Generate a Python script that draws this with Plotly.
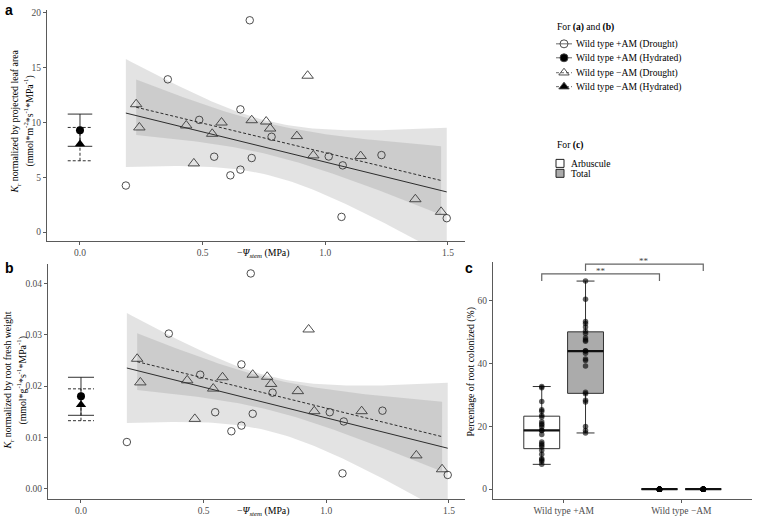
import numpy as np
import plotly.graph_objects as go

# ---------------- DATA ----------------
# Panels a/b : drought plants, -Psi_stem (MPa)
am_drought_psi = [0.187, 0.358, 0.486, 0.547, 0.613, 0.654, 0.654, 0.692, 0.700, 0.781, 1.014, 1.071, 1.229, 1.066, 1.495]
am_drought_kr_leaf = [4.25, 13.94, 10.24, 6.88, 5.18, 11.2, 5.7, 19.33, 6.76, 8.7, 6.9, 6.09, 7.03, 1.39, 1.27]
am_drought_kr_root = [0.0091, 0.0302, 0.0222, 0.0149, 0.0112, 0.0242, 0.0123, 0.0419, 0.0146, 0.0187, 0.0149, 0.0131, 0.0152, 0.0030, 0.0027]

nam_drought_psi = [0.229, 0.242, 0.433, 0.464, 0.539, 0.577, 0.700, 0.759, 0.775, 0.884, 0.928, 0.951, 1.144, 1.367, 1.472]
nam_drought_kr_leaf = [11.67, 9.55, 9.73, 6.27, 8.97, 10.0, 10.21, 10.09, 9.45, 8.76, 14.27, 7.0, 6.94, 3.0, 1.85]
nam_drought_kr_root = [0.0253, 0.0207, 0.0211, 0.0136, 0.0195, 0.0217, 0.0222, 0.0218, 0.0204, 0.0190, 0.0310, 0.0151, 0.0151, 0.0065, 0.0038]

# Hydrated plants (at -Psi = 0): mean, standard error
hydrated_psi = 0.0
am_hyd_leaf = [9.3, 1.47]
nam_hyd_leaf = [8.03, 1.52]
am_hyd_root = [0.0180, 0.0037]
nam_hyd_root = [0.01635, 0.0031]

# Panel c : percentage of root colonized
c_categories = ["Wild type +AM", "Wild type \u2212AM"]
arbuscule_am = [7.9, 8.9, 9.4, 9.7, 11.1, 12.4, 13.4, 14.0, 14.5, 15.0, 17.4, 18.7, 18.7, 19.8, 20.4,
                20.8, 21.5, 23.0, 23.5, 24.8, 25.3, 27.9, 32.3, 32.7]
total_am = [17.9, 18.7, 20.0, 27.8, 28.3, 30.4, 30.9, 39.2, 41.0, 41.5, 43.3, 44.0, 44.1, 47.1, 47.5,
            48.2, 49.6, 50.3, 51.7, 52.8, 53.4, 60.5, 66.3]
arbuscule_nam = [0, 0, 0, 0, 0, 0, 0, 0, 0, 0, 0, 0, 0, 0, 0, 0, 0, 0, 0, 0]
total_nam = [0, 0, 0, 0, 0, 0, 0, 0, 0, 0, 0, 0, 0, 0, 0, 0, 0, 0, 0, 0]

x_ticks_ab = [0.0, 0.5, 1.0, 1.5]
x_ticklabels_ab = ["0.0", "0.5", "1.0", "1.5"]
y_ticks_a = [0, 5, 10, 15, 20]
y_ticks_b = [0.00, 0.01, 0.02, 0.03, 0.04]
y_ticklabels_b = ["0.00", "0.01", "0.02", "0.03", "0.04"]
y_ticks_c = [0, 20, 40, 60]

# ---------------- HELPERS ----------------
W, H = 757, 521
SERIF = "Liberation Serif, Times New Roman, DejaVu Serif, serif"
AX = "#5a5a5a"
TICKF = dict(family=SERIF, size=9.5, color="#4d4d4d")


def t975(df):
    z = 1.959964
    return (z + (z**3 + z) / (4 * df) + (5 * z**5 + 16 * z**3 + 3 * z) / (96 * df**2)
            + (3 * z**7 + 19 * z**5 + 17 * z**3 - 15 * z) / (384 * df**3))


def lm_band(x, y, n=80):
    x = np.asarray(x, float)
    y = np.asarray(y, float)
    b, a = np.polyfit(x, y, 1)
    xs = np.linspace(x.min(), x.max(), n)
    yh = a + b * xs
    res = y - (a + b * x)
    s = np.sqrt((res ** 2).sum() / (len(x) - 2))
    se = s * np.sqrt(1 / len(x) + (xs - x.mean()) ** 2 / ((x - x.mean()) ** 2).sum())
    t = t975(len(x) - 2)
    return xs, yh, yh - t * se, yh + t * se


def px_x(p):
    return p / W


def px_y(p):
    return 1 - p / H


fig = go.Figure()


def add_scatter_panel(xa, ya, kr_am, kr_nam, hyd_am, hyd_nam, cap):
    band_specs = [(am_drought_psi, kr_am, "rgba(140,140,140,0.24)", "solid"),
                  (nam_drought_psi, kr_nam, "rgba(140,140,140,0.26)", "3px,2px")]
    fits = []
    for xs_, ys_, fc, dash in band_specs:
        xs, yh, lo, hi = lm_band(xs_, ys_)
        fits.append((xs, yh, dash))
        fig.add_trace(go.Scatter(x=np.concatenate([xs, xs[::-1]]), y=np.concatenate([lo, hi[::-1]]),
                                 fill="toself", fillcolor=fc, line=dict(width=0), mode="lines",
                                 xaxis=xa, yaxis=ya, showlegend=False, hoverinfo="skip"))
    for xs, yh, dash in fits:
        fig.add_trace(go.Scatter(x=xs, y=yh, mode="lines", line=dict(color="#1a1a1a", width=0.9, dash=dash),
                                 xaxis=xa, yaxis=ya, showlegend=False, hoverinfo="skip"))
    # error bars of hydrated plants
    for (m, se), dash in [(hyd_am, "solid"), (hyd_nam, "3px,2px")]:
        ex = [hydrated_psi, hydrated_psi, None,
              hydrated_psi - cap, hydrated_psi + cap, None,
              hydrated_psi - cap, hydrated_psi + cap]
        ey = [m - se, m + se, None, m + se, m + se, None, m - se, m - se]
        fig.add_trace(go.Scatter(x=ex, y=ey, mode="lines", line=dict(color="#1a1a1a", width=0.9, dash=dash),
                                 xaxis=xa, yaxis=ya, showlegend=False, hoverinfo="skip"))
    # drought points
    fig.add_trace(go.Scatter(x=am_drought_psi, y=kr_am, mode="markers",
                             marker=dict(symbol="circle-open", size=7.5, color="#3a3a3a", line=dict(width=0.9)),
                             xaxis=xa, yaxis=ya, showlegend=False))
    fig.add_trace(go.Scatter(x=nam_drought_psi, y=kr_nam, mode="markers",
                             marker=dict(symbol="triangle-up-open", size=10, color="#3a3a3a", line=dict(width=0.9)),
                             xaxis=xa, yaxis=ya, showlegend=False))
    # hydrated means
    fig.add_trace(go.Scatter(x=[hydrated_psi], y=[hyd_am[0]], mode="markers",
                             marker=dict(symbol="circle", size=8, color="black"),
                             xaxis=xa, yaxis=ya, showlegend=False))
    fig.add_trace(go.Scatter(x=[hydrated_psi], y=[hyd_nam[0]], mode="markers",
                             marker=dict(symbol="triangle-up", size=9, color="black"),
                             xaxis=xa, yaxis=ya, showlegend=False))


add_scatter_panel("x", "y", am_drought_kr_leaf, nam_drought_kr_leaf, am_hyd_leaf, nam_hyd_leaf, 0.05)
add_scatter_panel("x2", "y2", am_drought_kr_root, nam_drought_kr_root, am_hyd_root, nam_hyd_root, 0.053)

# ---------------- PANEL C ----------------
dodge = 0.186
box_w = 0.305
groups = [(0, -dodge, arbuscule_am, "white"), (0, dodge, total_am, "#ababab"),
          (1, -dodge, arbuscule_nam, "white"), (1, dodge, total_nam, "#ababab")]
for ci, off, vals, fc in groups:
    pos = ci + off
    fig.add_trace(go.Box(y=vals, x0=pos, width=box_w, fillcolor=fc, boxpoints=False,
                         line=dict(color="#333333", width=1), xaxis="x3", yaxis="y3",
                         showlegend=False, hoverinfo="skip"))
    med = float(np.median(vals))
    fig.add_trace(go.Scatter(x=[pos - box_w / 2, pos + box_w / 2], y=[med, med], mode="lines",
                             line=dict(color="#111111", width=2.2), xaxis="x3", yaxis="y3",
                             showlegend=False, hoverinfo="skip"))
    fig.add_trace(go.Scatter(x=[pos] * len(vals), y=vals, mode="markers",
                             marker=dict(size=5.5, color="rgba(0,0,0,0.62)"),
                             xaxis="x3", yaxis="y3", showlegend=False, hoverinfo="skip"))

# significance brackets (Arbuscule pair, Total pair)
shapes = []
annotations = []
for off, yb, yt in [(-dodge, 66.3, 68.6), (dodge, 69.5, 71.7)]:
    x0, x1 = 0 + off, 1 + off
    shapes.append(dict(type="path", xref="x3", yref="y3",
                       path=f"M {x0} {yb} L {x0} {yt} L {x1} {yt} L {x1} {yb}",
                       line=dict(color="#666666", width=1.2)))
    annotations.append(dict(x=(x0 + x1) / 2, y=yt, xref="x3", yref="y3", text="**", showarrow=False,
                            yanchor="bottom", yshift=-4, font=dict(family=SERIF, size=9, color="#444")))

# ---------------- LEGEND (drawn in a pixel-coordinate overlay) ----------------
LEGF = dict(family=SERIF, size=9.6, color="black")
leg_items = [("circle-open", "solid", "Wild type +AM (Drought)", 42),
             ("circle", "solid", "Wild type +AM (Hydrated)", 56),
             ("triangle-up-open", "3px,2px", "Wild type \u2212AM (Drought)", 71),
             ("triangle-up", "3px,2px", "Wild type \u2212AM (Hydrated)", 85)]
for sym, dash, label, yy in leg_items:
    fig.add_trace(go.Scatter(x=[556, 572], y=[yy, yy], mode="lines", line=dict(color="#444", width=0.8, dash=dash),
                             xaxis="x4", yaxis="y4", showlegend=False, hoverinfo="skip"))
    fig.add_trace(go.Scatter(x=[564], y=[yy], mode="markers",
                             marker=dict(symbol=sym, size=8 if "circle" in sym else 9,
                                         color="#3a3a3a" if "open" in sym else "black", line=dict(width=0.9)),
                             xaxis="x4", yaxis="y4", showlegend=False, hoverinfo="skip"))
    annotations.append(dict(x=574, y=yy, xref="x4", yref="y4", text=label, showarrow=False,
                            xanchor="left", yanchor="middle", font=LEGF))
annotations.append(dict(x=555, y=25, xref="x4", yref="y4", text="For <b>(a)</b> and <b>(b)</b>", showarrow=False,
                        xanchor="left", yanchor="middle", font=LEGF))
annotations.append(dict(x=555, y=144, xref="x4", yref="y4", text="For <b>(c)</b>", showarrow=False,
                        xanchor="left", yanchor="middle", font=LEGF))
for fc, label, yy in [("white", "Arbuscule", 162), ("#ababab", "Total", 172)]:
    fig.add_trace(go.Scatter(x=[560], y=[yy], mode="markers",
                             marker=dict(symbol="square", size=8, color=fc, line=dict(color="#222", width=1)),
                             xaxis="x4", yaxis="y4", showlegend=False, hoverinfo="skip"))
    annotations.append(dict(x=569, y=yy, xref="x4", yref="y4", text=label, showarrow=False,
                            xanchor="left", yanchor="middle", font=LEGF))

# axis titles & panel letters
TF = dict(family=SERIF, size=9.8, color="black")
psi_title = "\u2212<i>\u03a8</i><sub><i>stem</i></sub> (MPa)"
annotations += [
    dict(x=263, y=252, xref="x4", yref="y4", text=psi_title, showarrow=False, font=TF),
    dict(x=263, y=511, xref="x4", yref="y4", text=psi_title, showarrow=False, font=TF),
    dict(x=15, y=120, xref="x4", yref="y4", textangle=-90, showarrow=False, font=TF,
         text="<i>K</i><sub>r</sub> normalized by projected leaf area"),
    dict(x=29, y=120, xref="x4", yref="y4", textangle=-90, showarrow=False, font=TF,
         text="(mmol*m<sup>-2</sup>*s<sup>-1</sup>*MPa<sup>-1</sup>)"),
    dict(x=8, y=380, xref="x4", yref="y4", textangle=-90, showarrow=False, font=TF,
         text="<i>K</i><sub>r</sub> normalized by root fresh weight"),
    dict(x=22, y=380, xref="x4", yref="y4", textangle=-90, showarrow=False, font=TF,
         text="(mmol*g<sup>-1</sup>*s<sup>-1</sup>*MPa<sup>-1</sup>)"),
    dict(x=471, y=372, xref="x4", yref="y4", textangle=-90, showarrow=False, font=TF,
         text="Percentage of root colonized (%)"),
]
LF = dict(family="Liberation Sans, Arial, sans-serif", size=14, color="black")
for letter, xx, yy in [("a", 9, 8), ("b", 9, 267), ("c", 469, 267)]:
    annotations.append(dict(x=xx, y=yy, xref="x4", yref="y4", text=f"<b>{letter}</b>", showarrow=False, font=LF))

# ---------------- LAYOUT ----------------
common = dict(showline=True, linecolor=AX, linewidth=1, ticks="outside", ticklen=3, tickcolor=AX,
              tickwidth=1, showgrid=False, zeroline=False, tickfont=TICKF)

fig.update_layout(
    width=W, height=H, margin=dict(l=0, r=0, t=0, b=0),
    paper_bgcolor="white", plot_bgcolor="rgba(0,0,0,0)",
    showlegend=False, font=dict(family=SERIF),
    xaxis=dict(domain=[px_x(47), px_x(465)], range=[-0.1345, 1.5695], tickvals=x_ticks_ab,
               ticktext=x_ticklabels_ab, anchor="y", **common),
    yaxis=dict(domain=[px_y(240), px_y(8)], range=[-0.818, 20.27], tickvals=y_ticks_a, anchor="x", **common),
    xaxis2=dict(domain=[px_x(48), px_x(465)], range=[-0.1345, 1.5654], tickvals=x_ticks_ab,
                ticktext=x_ticklabels_ab, anchor="y2", **common),
    yaxis2=dict(domain=[px_y(499), px_y(263)], range=[-0.0020, 0.04374], tickvals=y_ticks_b,
                ticktext=y_ticklabels_b, anchor="x2", **common),
    xaxis3=dict(domain=[px_x(493), px_x(752)], range=[-0.6, 1.6], tickvals=[0, 1], ticktext=c_categories,
                anchor="y3", **common),
    yaxis3=dict(domain=[px_y(499), px_y(261)], range=[-3.17, 72.38], tickvals=y_ticks_c, anchor="x3", **common),
    xaxis4=dict(domain=[0, 1], range=[0, W], visible=False, anchor="y4", fixedrange=True),
    yaxis4=dict(domain=[0, 1], range=[H, 0], visible=False, anchor="x4", fixedrange=True),
    shapes=shapes, annotations=annotations,
)

fig.write_html("out.html")
